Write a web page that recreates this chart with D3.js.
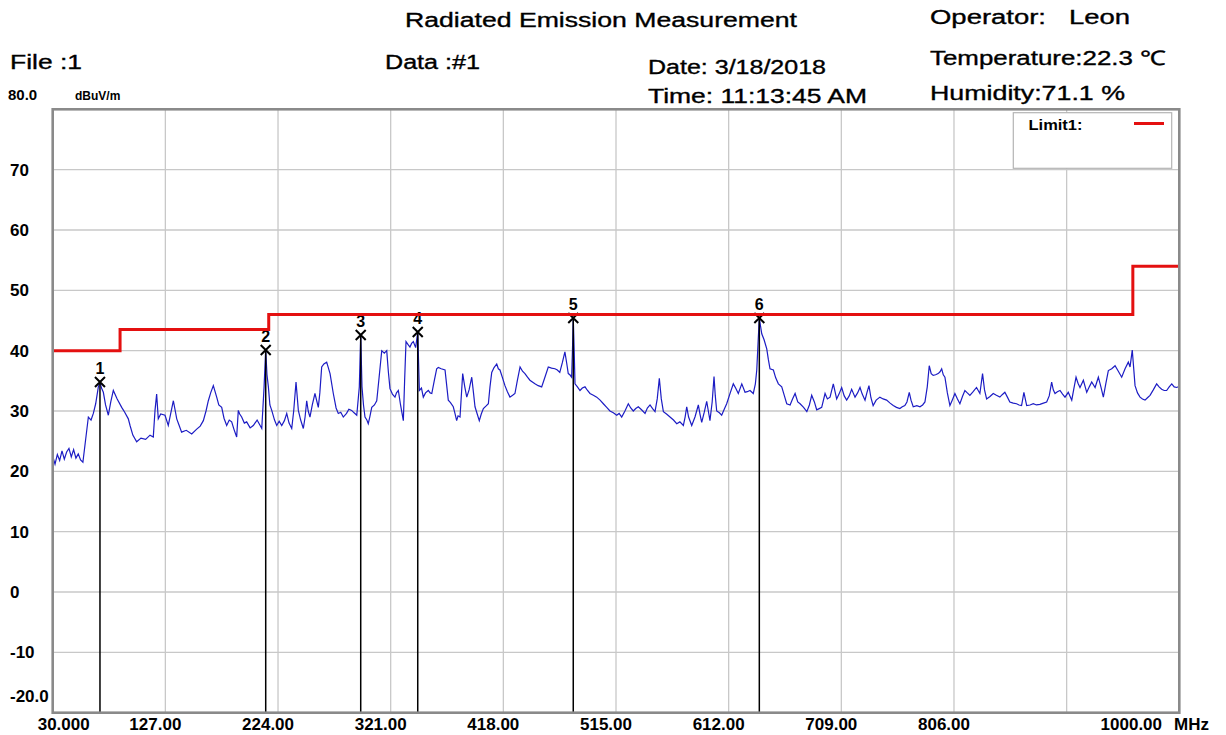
<!DOCTYPE html>
<html>
<head>
<meta charset="utf-8">
<script src="https://cdn.jsdelivr.net/npm/d3@7"></script>
<style>
  body { margin: 0; background: #fff; }
  svg { display: block; font-family: "Liberation Sans", Arial, sans-serif; }
</style>
</head>
<body>
<svg id="chart" width="1226" height="735"></svg>
<script>
// x ticks (MHz) and y ticks (dBuV/m)
const xTicks = [30, 127, 224, 321, 418, 515, 612, 709, 806, 903, 1000];
const xTickLabels = ["30.000", "127.00", "224.00", "321.00", "418.00", "515.00", "612.00", "709.00", "806.00", "", "1000.00"];
const yTicks = [80, 70, 60, 50, 40, 30, 20, 10, 0, -10, -20];
const yTickLabels = ["", "70", "60", "50", "40", "30", "20", "10", "0", "-10", "-20.0"];

// limit line (FCC class B, 3 m)
const limitFreq = [30, 88, 88, 216, 216, 960, 960, 1000];
const limitLevel = [40, 40, 43.5, 43.5, 46, 46, 54, 54];

// peak markers
const markerFreq = [70.7, 213.4, 295.2, 344.3, 478.2, 638.4];
const markerLevel = [34.8, 40.1, 42.6, 43.1, 45.4, 45.4];

const traceFreq = [
  30, 32, 34, 36, 38, 40, 42, 44, 46, 48, 50, 52, 54, 56,
  60.7, 63, 65, 67, 69.3, 70.7, 72, 73.6, 75.5, 77.9, 80, 82.2, 85.5, 89.4, 92, 95.1, 96.6, 99, 102.3, 106, 110,
  113.8, 116.6, 118.1, 119.5, 120.9, 123, 126.7, 129.5, 131.5, 133.9, 136.8, 138.5, 141, 145, 149.7, 154, 157,
  159.7, 162, 164, 166, 168.3, 171.2, 173, 175.5, 177.5, 179.8, 182, 184.1, 186, 188.4, 189.8, 191, 192.7, 195,
  197, 200, 202.7, 206, 208, 210, 212, 213.4, 214.5, 215.7, 217, 218.6, 221, 222.9, 225, 227.2, 229.5, 231.5,
  233.5, 235.8, 237.5, 239.5, 241.5, 243.5, 245.8, 247.3, 248.7, 250, 251.5, 253.5, 255.8, 258.7, 260, 261.6,
  263.5, 265.9, 268.8, 271.6, 274, 275.9, 278, 280.2, 283, 285, 287.4, 289.5, 291.8, 294, 295.2, 296.3, 297.6,
  298.9, 300.5, 301.7, 303, 304.7, 307, 309, 311, 313.3, 315.5, 317.6, 319, 320.4, 322.5, 324.7, 326, 327.6,
  329.5, 331.9, 333, 334.2, 336, 337.6, 339, 340.5, 342.5, 344.3, 345.7, 347.5, 349.1, 351, 353.4, 355, 356.4,
  358.5, 360.6,
  362, 364.5, 367.8, 370.6, 372.5, 374.9, 376.5, 377.8, 379, 380.7, 383, 384.8, 386.5, 388.5, 390.8, 392.3,
  393.6, 395.5, 397.3, 399, 400.8, 403, 405.1, 406.5, 408, 410, 412.3, 413.7, 415.1, 417.3, 419.4, 421.5, 423.7,
  426, 428, 430, 432.4, 434.5, 436.6, 438.8, 440.9, 443, 445.2, 448, 451, 453.8, 456.7, 459.5, 462.4, 464.5,
  466.6, 468.8, 471, 472.5, 473.9, 475.3, 476.8, 477.5, 478.2, 479, 479.7, 481.8, 484, 486, 488.3, 490.5, 492.6,
  495.5, 498.4, 501.3, 504.1, 507, 509.8, 512.7, 515.6, 517.7, 519.9, 522.7, 525.6, 527.7, 529.9, 532, 534.2,
  537, 540, 542, 544.3, 546.5, 548.6, 550.5, 552.3, 554, 555.8, 558.5, 561.5, 564.5, 567.3, 570, 573, 574.5,
  575.9, 577.5, 580.2, 583, 585.9, 587.3, 588.8, 591, 593.1, 594.5, 595.9, 597.8, 599.4, 600.5, 601.7, 604,
  606, 608, 610.3, 613, 616, 618, 620.3, 623.3, 626.1, 628, 630.4, 633.2, 635, 636.2, 637.5, 638.4, 639.5,
  640.5, 642.5, 644.8, 646.2, 647.6, 650.5, 652.5, 654.8, 657.7, 660, 662, 664.9, 667, 669.2, 671.5, 673.5,
  676.5, 679.3, 681.5, 683.5, 685.8, 687.8,
  690, 692.1, 695, 697, 699.3, 702.1, 705, 707, 709.3, 711.5, 713.6, 715.8, 717.9, 720.8, 723, 725.1, 727,
  729.4, 731, 732.8, 734.5, 736.4, 739, 742.2, 745, 748, 751, 753.7, 756.5, 759.4, 761.5, 763.7, 765.5, 767.5,
  769, 770.9, 774, 776.7, 779, 781, 783, 784.7, 786.4, 788.1, 790.2, 792.4, 794, 795.4, 796.8, 798.2, 800.3,
  802.5, 804.5, 806.8, 809, 811.1, 813.3, 815.4, 817.5, 819.7, 822.5, 825.4, 828.3, 830.6, 832.3, 834.1, 837,
  839.8, 842.5, 845.5, 847.5, 849.8, 852, 854.1, 857, 859.9, 862, 864.2, 866.2, 868.6, 871.5, 874.3, 877, 880,
  883, 885.8, 888, 890.1, 891.5, 893, 895, 897.3, 899.5, 901.6, 904.4, 907.4, 909.3, 911.1, 912.8, 914.5,
  917.4, 920.3, 922.5, 924.6, 927.5, 930.3, 932.5, 934.6, 936.7, 938.9, 941.8, 944.7, 947.5, 950.4, 953.3,
  956.1, 957.6, 959.5, 961.9, 964, 966.2, 968.3, 970.5, 972.6, 974.8, 977.6, 980.5, 982.6, 984.8, 987, 989.1,
  991.3, 993.5, 995.6, 997.8, 1000
];
const traceLevel = [
  22.5, 21.2, 22.8, 21.8, 23.4, 22.0, 23.2, 23.8, 22.4, 23.6, 22.2, 22.9, 21.9, 21.5,
  29.0, 28.5, 29.6, 31.2, 34.0, 34.8, 33.8, 33.1, 31.0, 29.3, 31.5, 33.4, 32.0, 30.6, 29.8, 28.7, 27.6, 26.0, 24.9, 25.5, 25.3,
  26.0, 25.7, 30.1, 32.8, 28.7, 29.5, 29.3, 27.6, 29.5, 31.7, 28.7, 27.8, 26.5, 26.8, 26.2, 27.0, 27.5,
  28.4, 30.0, 31.7, 33.0, 34.2, 32.3, 31.0, 30.6, 28.8, 27.6, 28.5, 28.2, 27.0, 25.7, 30.1, 29.5, 29.0, 28.0,
  28.2, 27.2, 27.6, 28.5, 27.8, 27.1, 34.0, 40.1, 36.0, 34.0, 31.0, 30.1, 28.5, 27.6, 28.3, 27.6, 28.4, 29.6,
  28.0, 27.1, 30.0, 34.8, 30.1, 28.5, 27.1, 29.0, 31.7, 30.0, 29.0, 31.0, 32.9, 30.6, 33.0, 37.3,
  37.8, 38.1, 36.2, 32.9, 30.5, 29.6, 29.8, 29.0, 29.6, 30.3, 30.1, 29.7, 29.3, 34.0, 42.6, 34.0, 31.0,
  29.0, 28.5, 27.9, 29.0, 30.6, 31.0, 31.7, 35.5, 40.0, 39.6, 40.0, 36.5, 33.7, 32.8, 32.3, 33.0, 33.4,
  31.0, 28.4, 35.0, 41.5, 41.0, 40.6, 41.2, 41.5, 40.5, 43.1, 33.4, 33.8, 32.3, 33.0, 33.4, 33.0, 32.9,
  35.0, 37.0,
  37.2, 37.0, 36.8, 31.8, 31.4, 30.7, 29.5, 28.4, 29.2, 29.0, 36.2, 34.0, 32.3, 33.5, 35.6, 33.0,
  30.7, 29.5, 28.4, 29.5, 30.4, 30.8, 31.2, 34.0, 36.4, 37.2, 37.8, 37.0, 36.8, 35.5, 34.2, 33.2, 32.3,
  32.6, 32.9, 35.0, 37.3, 36.6, 36.2, 35.6, 35.1, 34.8, 34.5, 34.2, 34.0, 35.6, 37.3, 37.1, 37.0, 36.8,
  36.4, 38.0, 39.8, 38.0, 36.2, 36.0, 35.6, 40.0, 45.4, 40.0, 34.5, 34.0, 33.4, 33.8, 34.0, 33.4, 32.9,
  32.6, 32.3, 31.8, 31.2, 30.6, 30.0, 29.7, 29.3, 29.6, 29.0, 30.0, 31.2, 30.5, 30.0, 30.4, 30.7,
  30.2, 29.6, 30.5, 31.0, 30.4, 29.9, 32.0, 35.4, 32.0, 29.9, 29.5, 29.0, 28.5, 27.9, 28.2, 27.6, 29.0,
  30.7, 29.0, 27.6, 29.0, 31.0, 29.5, 28.1, 29.8, 31.6, 30.0, 28.4, 31.5, 35.7, 32.5, 30.0, 29.7,
  29.3, 30.2, 31.2, 32.8, 34.5, 33.8, 32.9, 34.5, 33.1, 33.2, 33.4, 32.9, 34.5, 36.8, 42.0, 45.4, 44.0,
  42.8, 41.8, 40.3, 38.5, 37.0, 36.8, 35.5, 34.5, 34.0, 32.5, 31.2, 31.0, 32.0, 32.9, 31.5, 31.2,
  30.6, 29.9, 31.0, 32.6, 31.5, 30.2,
  30.4, 30.6, 32.9, 32.0, 32.3, 34.5, 32.0, 32.8, 33.9, 32.5, 31.8, 32.5, 33.6, 32.3, 33.0, 33.9, 32.8,
  31.8, 33.0, 34.2, 32.2, 30.9, 31.8, 32.3, 32.0, 31.8, 31.3, 30.9, 30.6, 30.4, 30.7, 30.9, 31.5, 33.1,
  31.8, 30.7, 30.9, 30.7, 31.0, 31.5, 34.0, 37.5, 36.2, 35.9, 36.0, 36.2, 36.5, 37.0, 36.0, 35.6, 33.0,
  30.9, 31.8, 32.9, 32.0, 31.2, 32.4, 33.4, 33.0, 32.6, 33.2, 33.9, 32.9, 36.2, 33.5, 32.0, 32.4,
  32.9, 32.6, 32.3, 32.7, 33.1, 32.3, 31.5, 31.3, 31.2, 31.0, 30.9, 33.1, 30.9, 31.0, 31.2, 31.0, 31.1,
  31.3, 31.5, 32.5, 34.8, 33.5, 32.9, 33.2, 33.4, 32.8, 32.3, 33.1, 31.8, 33.8, 35.6, 34.6, 33.9,
  35.1, 33.1, 34.0, 34.8, 33.9, 35.6, 34.0, 32.3, 34.5, 36.7, 37.0, 37.5, 36.6, 35.6, 37.0,
  38.1, 37.3, 40.1, 34.2, 33.0, 32.3, 32.0, 31.8, 32.2, 32.6, 33.5, 34.5, 34.0, 33.6, 33.4, 33.4,
  34.0, 34.5, 34.0, 33.9, 34.1
];

const svg = d3.select("#chart");
const plotLeft = 52.7, plotRight = 1179.3, plotTop = 109.3, plotBottom = 712.7;

const x = d3.scaleLinear().domain([30, 1000]).range([plotLeft, plotRight]);
const y = d3.scaleLinear().domain([-20, 80]).range([plotBottom, plotTop]);

svg.append("rect").attr("width", 1226).attr("height", 735).attr("fill", "#fff");

// header texts
const header = [
  { t: "Radiated Emission Measurement", x: 405, y: 27, w: 392 },
  { t: "File :1", x: 10, y: 69, w: 72 },
  { t: "Data :#1", x: 385, y: 69, w: 95 },
  { t: "Date: 3/18/2018", x: 648, y: 74, w: 178 },
  { t: "Time: 11:13:45 AM", x: 648, y: 103, w: 219 },
  { t: "Operator:   Leon", x: 930, y: 24, w: 200 },
  { t: "Temperature:22.3 \u2103", x: 930, y: 65, w: 236 },
  { t: "Humidity:71.1 %", x: 930, y: 100, w: 195 }
];
svg.selectAll("text.hdr")
  .data(header)
  .enter()
  .append("text")
  .attr("class", "hdr")
  .attr("x", d => d.x)
  .attr("y", d => d.y)
  .attr("textLength", d => d.w)
  .attr("lengthAdjust", "spacingAndGlyphs")
  .attr("font-size", 20)
  .attr("fill", "#000")
  .attr("stroke", "#000")
  .attr("stroke-width", 0.35)
  .style("white-space", "pre")
  .text(d => d.t);

svg.append("text").attr("x", 8).attr("y", 100)
  .attr("font-size", 15).attr("font-weight", "bold").text("80.0");
svg.append("text").attr("x", 75).attr("y", 100)
  .attr("font-size", 12).attr("font-weight", "bold").text("dBuV/m");

// grid
const grid = svg.append("g").attr("stroke", "#c8c8c8").attr("stroke-width", 1.3);
grid.selectAll("line.v")
  .data(xTicks.slice(1, -1))
  .enter().append("line")
  .attr("x1", d => x(d)).attr("x2", d => x(d))
  .attr("y1", plotTop).attr("y2", plotBottom);
grid.selectAll("line.h")
  .data(yTicks.slice(1, -1))
  .enter().append("line")
  .attr("x1", plotLeft).attr("x2", plotRight)
  .attr("y1", d => y(d)).attr("y2", d => y(d));

// y labels
svg.selectAll("text.yl")
  .data(yTicks.map((v, i) => ({ v, s: yTickLabels[i] })).filter(d => d.s))
  .enter().append("text")
  .attr("class", "yl")
  .attr("x", 10)
  .attr("y", d => d.v === -20 ? y(d.v) - 11 : y(d.v) + 6)
  .attr("font-size", 17)
  .attr("font-weight", "bold")
  .text(d => d.s);

// x labels
svg.selectAll("text.xl")
  .data(xTicks.map((v, i) => ({ v, s: xTickLabels[i], i })).filter(d => d.s))
  .enter().append("text")
  .attr("class", "xl")
  .attr("text-anchor", "middle")
  .attr("x", d => {
    if (d.i === 0) return x(d.v) + 11;
    if (d.i === xTicks.length - 1) return x(d.v) - 48;
    return x(d.v) - 10;
  })
  .attr("y", 730)
  .attr("font-size", 17)
  .attr("font-weight", "bold")
  .text(d => d.s);
svg.append("text")
  .attr("x", 1174).attr("y", 730)
  .attr("font-size", 17).attr("font-weight", "bold").text("MHz");

// trace
const trace = traceFreq.map((f, i) => [f, traceLevel[i]]);
svg.append("path")
  .datum(trace)
  .attr("fill", "none")
  .attr("stroke", "#1c1cc4")
  .attr("stroke-width", 1.2)
  .attr("d", d3.line().x(d => x(d[0])).y(d => y(d[1])));

// markers
const markers = markerFreq.map((f, i) => ({ f, v: markerLevel[i], n: i + 1 }));
const mk = svg.selectAll("g.mk").data(markers).enter().append("g").attr("class", "mk");
mk.append("line")
  .attr("x1", d => x(d.f)).attr("x2", d => x(d.f))
  .attr("y1", d => y(d.v)).attr("y2", plotBottom)
  .attr("stroke", "#000").attr("stroke-width", 1.5);
mk.append("path")
  .attr("d", d => {
    const cx = x(d.f), cy = y(d.v), r = 5;
    return `M${cx - r},${cy - r}L${cx + r},${cy + r}M${cx - r},${cy + r}L${cx + r},${cy - r}`;
  })
  .attr("stroke", "#000").attr("stroke-width", 2);
mk.append("text")
  .attr("x", d => x(d.f))
  .attr("y", d => y(d.v) - 8)
  .attr("text-anchor", "middle")
  .attr("font-size", 16)
  .attr("font-weight", "bold")
  .text(d => d.n);

// limit line
const limit = limitFreq.map((f, i) => [f, limitLevel[i]]);
svg.append("path")
  .datum(limit)
  .attr("fill", "none")
  .attr("stroke", "#e41010")
  .attr("stroke-width", 3)
  .attr("d", d3.line().x(d => x(d[0])).y(d => y(d[1])));

// frame
svg.append("rect")
  .attr("x", plotLeft).attr("y", plotTop)
  .attr("width", plotRight - plotLeft).attr("height", plotBottom - plotTop)
  .attr("fill", "none").attr("stroke", "#8a8a8a").attr("stroke-width", 2.6);

// legend
svg.append("rect")
  .attr("x", 1013.3).attr("y", 112.7).attr("width", 158.4).attr("height", 55.6)
  .attr("fill", "#fff").attr("stroke", "#b4b4b4").attr("stroke-width", 1.2);
svg.append("text").attr("x", 1028.5).attr("y", 129.5)
  .attr("font-size", 14).attr("font-weight", "bold")
  .attr("textLength", 54).attr("lengthAdjust", "spacingAndGlyphs")
  .text("Limit1:");
svg.append("line")
  .attr("x1", 1134).attr("x2", 1164).attr("y1", 123.5).attr("y2", 123.5)
  .attr("stroke", "#e41010").attr("stroke-width", 3);
</script>
</body>
</html>
